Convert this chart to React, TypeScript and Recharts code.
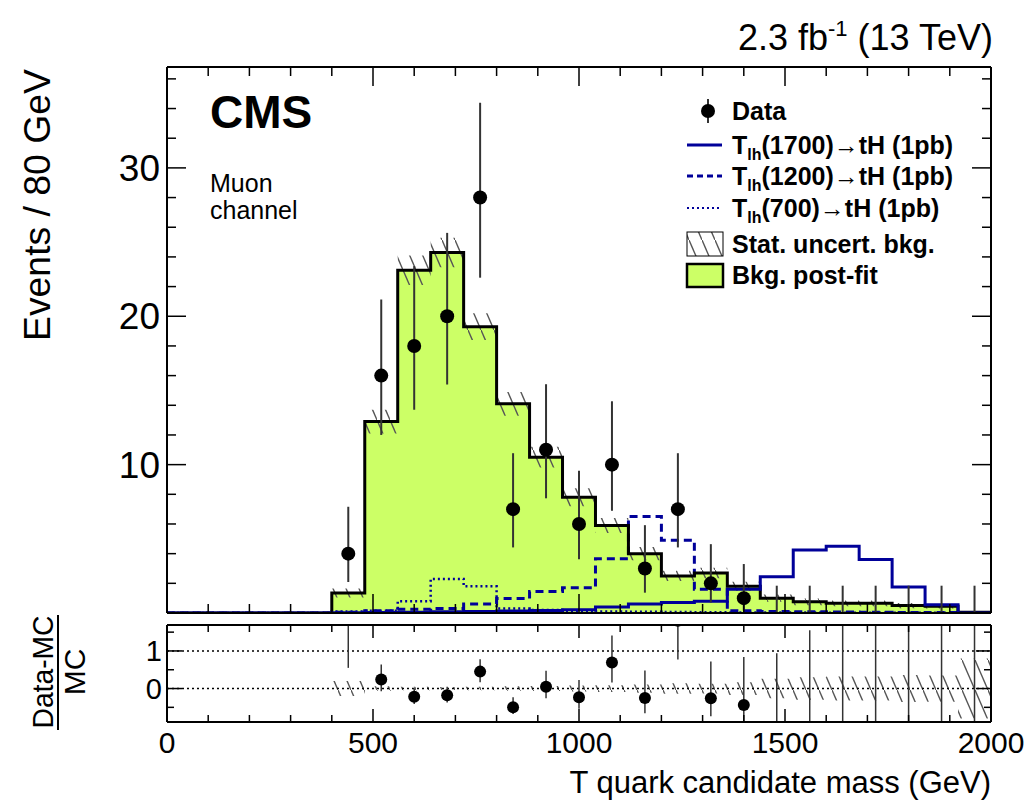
import React from "react";
import {
  ComposedChart,
  Area,
  Line,
  Scatter,
  ErrorBar,
  XAxis,
  YAxis,
  ReferenceLine,
} from "recharts";

// bin low edges (80 GeV bins), histogram closes at 2000
const binLow = [400, 480, 560, 640, 720, 800, 880, 960, 1040, 1120, 1200, 1280, 1360, 1440, 1520, 1600, 1680, 1760, 1840, 1920];
const binCenter = [440, 520, 600, 680, 760, 840, 920, 1000, 1080, 1160, 1240, 1320, 1400, 1480, 1560, 1640, 1720, 1800, 1880, 1960];

const bkg = [1.35, 12.9, 23.1, 24.3, 19.3, 14.1, 10.5, 7.8, 5.9, 4.0, 2.5, 2.7, 1.8, 1.0, 0.75, 0.65, 0.65, 0.5, 0.45, 0.05];
const bkgErr = [0.3, 0.8, 1.0, 1.0, 0.9, 0.8, 0.7, 0.6, 0.5, 0.45, 0.35, 0.35, 0.3, 0.25, 0.22, 0.2, 0.2, 0.18, 0.15, 0.04];
const sig1700 = [0.02, 0.03, 0.05, 0.08, 0.1, 0.13, 0.17, 0.22, 0.4, 0.6, 0.7, 0.8, 1.6, 2.45, 4.25, 4.5, 3.6, 1.75, 0.55, 0];
const sig1200 = [0.05, 0.15, 0.25, 0.3, 0.6, 0.97, 1.45, 1.7, 3.65, 6.5, 4.9, 1.6, 0.15, 0.1, 0.08, 0.06, 0.05, 0.04, 0.03, 0.02];
const sig700 = [0.1, 0.15, 0.8, 2.3, 1.8, 0.3, 0.2, 0.15, 0.1, 0.08, 0.06, 0.05, 0.04, 0.03, 0.03, 0.02, 0.02, 0.01, 0.01, 0.01];

const dataN = [4, 16, 18, 20, 28, 7, 11, 6, 10, 3, 7, 2, 1, 0, 0, 0, 0, 0, 0, 0];
const dataErrLo = [1.91, 4.0, 4.3, 4.6, 5.4, 2.58, 3.27, 2.38, 3.11, 1.63, 2.58, 1.29, 0.83, 0, 0, 0, 0, 0, 0, 0];
const dataErrHi = [3.16, 5.13, 5.38, 5.62, 6.39, 3.77, 4.42, 3.58, 4.27, 2.92, 3.77, 2.64, 2.3, 1.84, 1.84, 1.84, 1.84, 1.84, 1.84, 1.84];

const ratioVal = [1.96, 0.24, -0.22, -0.18, 0.45, -0.5, 0.05, -0.23, 0.69, -0.25, 1.8, -0.26, -0.44, -1, -1, -1, -1, -1, -1, -1];
const ratioLo = [1.41, 0.31, 0.19, 0.19, 0.28, 0.18, 0.31, 0.31, 0.53, 0.41, 1.03, 0.48, 0.46, 0, 0, 0, 0, 0, 0, 0];
const ratioHi = [2.3, 0.4, 0.23, 0.23, 0.33, 0.27, 0.42, 0.46, 0.72, 0.73, 1.5, 0.98, 1.28, 1.94, 2.55, 2.8, 2.8, 3.7, 4.1, 37];
const ratioBand = [0.2, 0.06, 0.045, 0.04, 0.045, 0.06, 0.065, 0.08, 0.09, 0.11, 0.14, 0.13, 0.17, 0.26, 0.3, 0.32, 0.32, 0.36, 0.35, 0.8];

const xTicks = [0, 100, 200, 300, 400, 500, 600, 700, 800, 900, 1000, 1100, 1200, 1300, 1400, 1500, 1600, 1700, 1800, 1900, 2000];
const yTicksMain = [0, 2, 4, 6, 8, 10, 12, 14, 16, 18, 20, 22, 24, 26, 28, 30, 32, 34, 36];
const yTicksRatio = [-0.5, 0, 0.5, 1, 1.5];

const legendLabels = ["Data", "(1700)\u2192tH (1pb)", "(1200)\u2192tH (1pb)", "(700)\u2192tH (1pb)", "Stat. uncert. bkg.", "Bkg. post-fit"];

const FONT = "'Liberation Sans', Arial, Helvetica, sans-serif";
const NAVY = "#000099";
const GREEN = "#ccff66";
const MAIN_Y = [0, 36.8];
const RATIO_Y = [-0.89, 1.69];

const last = binLow.length - 1;
const histRows = [
  { x: 0, bkg: 0, band: [0, 0], s1700: 0, s1200: 0, s700: 0 },
  ...binLow.map((x, i) => ({
    x,
    bkg: bkg[i],
    band: [bkg[i] - bkgErr[i], bkg[i] + bkgErr[i]],
    s1700: sig1700[i],
    s1200: sig1200[i],
    s700: sig700[i],
  })),
  {
    x: 2000,
    bkg: bkg[last],
    band: [bkg[last] - bkgErr[last], bkg[last] + bkgErr[last]],
    s1700: sig1700[last],
    s1200: sig1200[last],
    s700: sig700[last],
  },
];

const ratioRows = [
  ...binLow.map((x, i) => ({ x, band: [-ratioBand[i], ratioBand[i]] })),
  { x: 2000, band: [-ratioBand[last], ratioBand[last]] },
];

const dataPts = binCenter.map((x, i) => ({ x, y: dataN[i], err: [dataErrLo[i], dataErrHi[i]] }));
const ratioPts = binCenter.map((x, i) => ({ x, y: ratioVal[i], n: dataN[i], err: [ratioLo[i], ratioHi[i]] }));

function AxisTick(props: any) {
  const { x, y, payload, side, every, major, minor, label } = props;
  const v = payload.value;
  const big = Math.abs(v / every - Math.round(v / every)) < 1e-6;
  const len = big ? major : minor;
  let x2 = x;
  let y2 = y;
  if (side === "bottom") y2 = y - len;
  if (side === "top") y2 = y + len;
  if (side === "left") x2 = x + len;
  if (side === "right") x2 = x - len;
  let text = null;
  if (label && big && !(label.skipZero && v === 0)) {
    if (side === "bottom") {
      text = (
        <text x={x} y={y + label.dy} textAnchor="middle" fontSize={label.size} fontFamily={FONT} fill="#000">
          {v}
        </text>
      );
    } else {
      text = (
        <text x={x - label.dx} y={y + label.dy} textAnchor="end" fontSize={label.size} fontFamily={FONT} fill="#000">
          {v}
        </text>
      );
    }
  }
  return (
    <g>
      <line x1={x} y1={y} x2={x2} y2={y2} stroke="#000" strokeWidth={1.5} />
      {text}
    </g>
  );
}

const axisBase = {
  tickSize: 0,
  tickMargin: 0,
  tickLine: false,
  interval: 0 as const,
  allowDataOverflow: true,
  axisLine: { stroke: "#000", strokeWidth: 2 },
};

function dataDot(p: any) {
  if (!p.payload || p.payload.y === 0) return <g />;
  return <circle cx={p.cx} cy={p.cy} r={7} fill="#000" />;
}

function ratioDot(p: any) {
  if (!p.payload || p.payload.n === 0) return <g />;
  return <circle cx={p.cx} cy={p.cy} r={6} fill="#000" />;
}

// frame + inward ticks on all four sides; series are drawn elsewhere
function FrameAxes({ yDomain, yTicks, yEvery, xMajor, xMinor, yMajor, yMinor, xLabel, yLabel }: any) {
  return (
    <>
      <XAxis
        {...axisBase}
        dataKey="x"
        type="number"
        domain={[0, 2000]}
        ticks={xTicks}
        height={1}
        tick={(p: any) => <AxisTick {...p} side="bottom" every={500} major={xMajor} minor={xMinor} label={xLabel} />}
      />
      <XAxis
        {...axisBase}
        xAxisId="top"
        orientation="top"
        dataKey="x"
        type="number"
        domain={[0, 2000]}
        ticks={xTicks}
        height={1}
        tick={(p: any) => <AxisTick {...p} side="top" every={500} major={xMajor} minor={xMinor} />}
      />
      <YAxis
        {...axisBase}
        type="number"
        domain={yDomain}
        ticks={yTicks}
        width={1}
        tick={(p: any) => <AxisTick {...p} side="left" every={yEvery} major={yMajor} minor={yMinor} label={yLabel} />}
      />
      <YAxis
        {...axisBase}
        yAxisId="right"
        orientation="right"
        type="number"
        domain={yDomain}
        ticks={yTicks}
        width={1}
        tick={(p: any) => <AxisTick {...p} side="right" every={yEvery} major={yMajor} minor={yMinor} />}
      />
    </>
  );
}

function Overlay() {
  const lx = 732;
  return (
    <svg width={1028} height={810} style={{ position: "absolute", left: 0, top: 0, pointerEvents: "none" }}>
      <defs>
        <pattern id="hatchLegend" patternUnits="userSpaceOnUse" width={13} height={30}>
          <line x1={0} y1={0} x2={13} y2={30} stroke="#555" strokeWidth={1.4} />
        </pattern>
      </defs>
      <g fontFamily={FONT} fill="#000">
        <text x={210} y={128} fontSize={46} fontWeight="bold">CMS</text>
        <text x={210} y={192} fontSize={25}>Muon</text>
        <text x={210} y={219} fontSize={25}>channel</text>
        <text x={993} y={50} fontSize={36} textAnchor="end">
          2.3 fb<tspan fontSize={22} dy={-14}>-1</tspan>
          <tspan dy={14}> (13 TeV)</tspan>
        </text>
        <text transform="translate(50,205) rotate(-90)" fontSize={37} textAnchor="middle" textLength={272} lengthAdjust="spacingAndGlyphs">
          Events / 80 GeV
        </text>
        <text x={991} y={793} fontSize={31} textAnchor="end">
          T quark candidate mass (GeV)
        </text>
        <text transform="translate(53,672) rotate(-90)" fontSize={30} textAnchor="middle" textLength={113} lengthAdjust="spacingAndGlyphs">
          Data-MC
        </text>
        <line x1={58} y1={615} x2={58} y2={730} stroke="#000" strokeWidth={2} />
        <text transform="translate(85,672) rotate(-90)" fontSize={30} textAnchor="middle">MC</text>

        {/* legend */}
        <line x1={708} y1={99} x2={708} y2={123} stroke="#333" strokeWidth={2} />
        <circle cx={708} cy={111} r={7} fill="#000" />
        <text x={lx} y={120} fontSize={25} fontWeight="bold">{legendLabels[0]}</text>

        <line x1={687} y1={145} x2={722} y2={145} stroke={NAVY} strokeWidth={3} />
        <text x={lx} y={154} fontSize={25} fontWeight="bold">
          T<tspan fontSize={16} dy={6}>lh</tspan><tspan dy={-6}>{legendLabels[1]}</tspan>
        </text>
        <line x1={687} y1={176} x2={722} y2={176} stroke={NAVY} strokeWidth={3} strokeDasharray="6 4" />
        <text x={lx} y={185} fontSize={25} fontWeight="bold">
          T<tspan fontSize={16} dy={6}>lh</tspan><tspan dy={-6}>{legendLabels[2]}</tspan>
        </text>
        <line x1={687} y1={208} x2={722} y2={208} stroke={NAVY} strokeWidth={2} strokeDasharray="2 3" />
        <text x={lx} y={217} fontSize={25} fontWeight="bold">
          T<tspan fontSize={16} dy={6}>lh</tspan><tspan dy={-6}>{legendLabels[3]}</tspan>
        </text>
        <rect x={687} y={232} width={36} height={24} fill="url(#hatchLegend)" stroke="#000" strokeWidth={1} />
        <text x={lx} y={253} fontSize={25} fontWeight="bold">{legendLabels[4]}</text>
        <rect x={687} y={264} width={36} height={23} fill={GREEN} stroke="#000" strokeWidth={2.5} />
        <text x={lx} y={284} fontSize={25} fontWeight="bold">{legendLabels[5]}</text>
      </g>
    </svg>
  );
}

export default function App() {
  return (
    <div style={{ position: "absolute", left: 0, top: 0, width: 1028, height: 810, background: "#fff", fontFamily: FONT }}>
      {/* main panel: plot area x 167-991, y 67-613 */}
      <div style={{ position: "absolute", left: 0, top: 0 }}>
        <ComposedChart width={1028} height={810} data={histRows} margin={{ top: 66, right: 36, bottom: 196, left: 166 }}>
          <defs>
            <pattern id="hatchMain" patternUnits="userSpaceOnUse" width={13} height={30}>
              <line x1={0} y1={0} x2={13} y2={30} stroke="#555" strokeWidth={1.4} />
            </pattern>
          </defs>
          {FrameAxes({
            yDomain: MAIN_Y,
            yTicks: yTicksMain,
            yEvery: 10,
            xMajor: 19,
            xMinor: 9,
            yMajor: 19,
            yMinor: 9,
            yLabel: { size: 37, dx: 7, dy: 13, skipZero: true },
          })}
          <Area dataKey="bkg" type="stepAfter" stroke="none" fill={GREEN} fillOpacity={1} isAnimationActive={false} />
          <Area dataKey="band" type="stepAfter" stroke="none" fill="url(#hatchMain)" fillOpacity={1} isAnimationActive={false} />
          <Line dataKey="s700" type="stepAfter" stroke={NAVY} strokeWidth={2.5} strokeDasharray="2 3" dot={false} isAnimationActive={false} />
          <Line dataKey="s1200" type="stepAfter" stroke={NAVY} strokeWidth={3} strokeDasharray="8 5" dot={false} isAnimationActive={false} />
          <Line dataKey="bkg" type="stepAfter" stroke="#000" strokeWidth={3} dot={false} isAnimationActive={false} />
          <Line dataKey="s1700" type="stepAfter" stroke={NAVY} strokeWidth={3} dot={false} isAnimationActive={false} />
          <Scatter data={dataPts} dataKey="y" shape={dataDot} isAnimationActive={false}>
            <ErrorBar dataKey="err" direction="y" width={0} stroke="#333" strokeWidth={2} isAnimationActive={false} />
          </Scatter>
        </ComposedChart>
      </div>

      {/* ratio panel series, clipped to the plot area y 625-722 */}
      <div style={{ position: "absolute", left: 0, top: 625, width: 1028, height: 97, overflow: "hidden" }}>
        <div style={{ position: "absolute", left: 0, top: -625 }}>
          <ComposedChart width={1028} height={810} data={ratioRows} margin={{ top: 625, right: 37, bottom: 88, left: 167 }}>
            <defs>
              <pattern id="hatchRatio" patternUnits="userSpaceOnUse" width={13} height={30}>
                <line x1={0} y1={0} x2={13} y2={30} stroke="#555" strokeWidth={1.4} />
              </pattern>
            </defs>
            <XAxis hide dataKey="x" type="number" domain={[0, 2000]} allowDataOverflow />
            <YAxis hide type="number" domain={RATIO_Y} allowDataOverflow />
            <ReferenceLine y={1} stroke="#000" strokeWidth={1.5} strokeDasharray="2 3" />
            <ReferenceLine y={0} stroke="#000" strokeWidth={1.5} strokeDasharray="2 3" />
            <Area dataKey="band" type="stepAfter" stroke="none" fill="url(#hatchRatio)" fillOpacity={1} isAnimationActive={false} />
            <Scatter data={ratioPts} dataKey="y" shape={ratioDot} isAnimationActive={false}>
              <ErrorBar dataKey="err" direction="y" width={0} stroke="#333" strokeWidth={1.5} isAnimationActive={false} />
            </Scatter>
          </ComposedChart>
        </div>
      </div>

      {/* ratio panel frame, ticks and labels */}
      <div style={{ position: "absolute", left: 0, top: 0 }}>
        <ComposedChart width={1028} height={810} data={ratioRows} margin={{ top: 624, right: 36, bottom: 87, left: 166 }}>
          {FrameAxes({
            yDomain: RATIO_Y,
            yTicks: yTicksRatio,
            yEvery: 1,
            xMajor: 13,
            xMinor: 7,
            yMajor: 15,
            yMinor: 7,
            xLabel: { size: 30, dy: 31 },
            yLabel: { size: 29, dx: 5, dy: 10 },
          })}
        </ComposedChart>
      </div>

      <Overlay />
    </div>
  );
}
